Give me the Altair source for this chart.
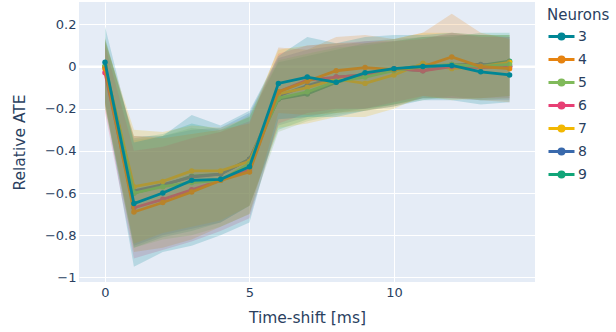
import altair as alt
import pandas as pd

# Time shift in ms (x positions)
time_shift = list(range(15))

# Number of neurons per series, and the series colours
neurons = ["3", "4", "5", "6", "7", "8", "9"]
colors = ["#008695", "#e68310", "#80ba5a", "#e73f74", "#f2b701", "#3969ac", "#11a579"]

# Mean relative ATE per series
mean_3 = [0.02, -0.65, -0.60, -0.54, -0.535, -0.475, -0.08, -0.05, -0.075, -0.03, -0.01, 0.0, 0.005, -0.025, -0.04]
mean_4 = [-0.01, -0.69, -0.645, -0.595, -0.54, -0.50, -0.12, -0.07, -0.02, -0.005, -0.015, 0.0, 0.045, 0.0, -0.01]
mean_5 = [0.0, -0.60, -0.57, -0.55, -0.54, -0.46, -0.15, -0.12, -0.07, -0.05, -0.02, 0.0, 0.01, 0.0, 0.01]
mean_6 = [-0.03, -0.67, -0.63, -0.585, -0.54, -0.49, -0.12, -0.065, -0.05, -0.04, -0.01, -0.02, 0.0, -0.005, 0.0]
mean_7 = [0.0, -0.57, -0.545, -0.495, -0.495, -0.45, -0.13, -0.10, -0.06, -0.08, -0.04, 0.015, -0.01, 0.0, 0.02]
mean_8 = [0.0, -0.59, -0.56, -0.525, -0.51, -0.44, -0.14, -0.09, -0.05, -0.04, -0.01, -0.02, 0.01, 0.01, 0.0]
mean_9 = [0.0, -0.60, -0.565, -0.52, -0.51, -0.44, -0.155, -0.13, -0.075, -0.04, -0.015, 0.005, 0.0, 0.005, 0.025]

# Upper bound of the spread band per series
upper_3 = [0.19, -0.36, -0.33, -0.23, -0.28, -0.21, 0.05, 0.14, 0.11, 0.14, 0.15, 0.15, 0.16, 0.15, 0.15]
upper_4 = [0.13, -0.33, -0.34, -0.32, -0.30, -0.27, 0.09, 0.08, 0.14, 0.15, 0.13, 0.16, 0.25, 0.16, 0.13]
upper_5 = [0.14, -0.35, -0.33, -0.29, -0.31, -0.23, 0.03, 0.06, 0.09, 0.10, 0.12, 0.14, 0.15, 0.15, 0.15]
upper_6 = [0.10, -0.40, -0.38, -0.34, -0.31, -0.26, 0.06, 0.10, 0.11, 0.12, 0.12, 0.13, 0.16, 0.14, 0.14]
upper_7 = [0.12, -0.30, -0.31, -0.28, -0.29, -0.24, 0.08, 0.10, 0.11, 0.11, 0.13, 0.16, 0.16, 0.15, 0.15]
upper_8 = [0.12, -0.33, -0.33, -0.30, -0.29, -0.22, 0.04, 0.08, 0.10, 0.12, 0.13, 0.14, 0.15, 0.15, 0.14]
upper_9 = [0.13, -0.34, -0.32, -0.27, -0.30, -0.24, 0.02, 0.05, 0.08, 0.11, 0.12, 0.14, 0.14, 0.16, 0.16]

# Lower bound of the spread band per series
lower_3 = [-0.17, -0.95, -0.88, -0.85, -0.80, -0.74, -0.25, -0.24, -0.24, -0.21, -0.19, -0.16, -0.16, -0.18, -0.17]
lower_4 = [-0.18, -0.88, -0.86, -0.82, -0.76, -0.70, -0.22, -0.23, -0.22, -0.21, -0.19, -0.15, -0.15, -0.16, -0.17]
lower_5 = [-0.20, -0.86, -0.82, -0.80, -0.76, -0.70, -0.31, -0.26, -0.23, -0.21, -0.18, -0.16, -0.14, -0.16, -0.15]
lower_6 = [-0.22, -0.91, -0.87, -0.83, -0.78, -0.72, -0.27, -0.22, -0.20, -0.20, -0.17, -0.14, -0.15, -0.15, -0.15]
lower_7 = [-0.18, -0.84, -0.79, -0.76, -0.73, -0.66, -0.29, -0.27, -0.24, -0.24, -0.20, -0.14, -0.16, -0.15, -0.14]
lower_8 = [-0.17, -0.85, -0.80, -0.77, -0.74, -0.66, -0.28, -0.24, -0.21, -0.20, -0.18, -0.15, -0.15, -0.16, -0.16]
lower_9 = [-0.19, -0.86, -0.81, -0.78, -0.74, -0.66, -0.30, -0.25, -0.22, -0.20, -0.18, -0.15, -0.15, -0.15, -0.14]

means = [mean_3, mean_4, mean_5, mean_6, mean_7, mean_8, mean_9]
uppers = [upper_3, upper_4, upper_5, upper_6, upper_7, upper_8, upper_9]
lowers = [lower_3, lower_4, lower_5, lower_6, lower_7, lower_8, lower_9]

rows = []
for n, m, u, lo in zip(neurons, means, uppers, lowers):
    for t, mv, uv, lv in zip(time_shift, m, u, lo):
        rows.append({"neurons": n, "t": t, "mean": mv, "hi": uv, "lo": lv})
df = pd.DataFrame(rows)

FONT = "DejaVu Sans"
TEXT = "#2a3f5f"

x_scale = alt.Scale(domain=[-0.9, 14.88], nice=False, zero=False)
y_scale = alt.Scale(domain=[-1.022, 0.306], nice=False, zero=False)
x_axis = alt.Axis(values=[0, 5, 10], title="Time-shift [ms]", labelPadding=4,
                  titleX=228, titleY=40, titleBaseline="alphabetic", titleAlign="center")
y_axis = alt.Axis(values=[-1, -0.8, -0.6, -0.4, -0.2, 0, 0.2], format=".1~f",
                  title="Relative ATE", labelPadding=3,
                  titleX=-60, titleY=140, titleAngle=270, titleAlign="center",
                  titleBaseline="middle")
color_scale = alt.Scale(domain=neurons, range=colors)

legend = alt.Legend(
    title="Neurons",
    orient="none",
    legendX=468,
    legendY=6,
    symbolType="M-1,0H1M-0.19,0A0.19,0.19,0,1,0,0.19,0A0.19,0.19,0,1,0,-0.19,0",
    symbolSize=676,
    symbolStrokeWidth=3,
    labelOffset=2,
)

X = alt.X("t:Q", scale=x_scale, axis=x_axis)

# white zero line under everything
zero = alt.Chart(pd.DataFrame({"z": [0]})).mark_rule(color="white", strokeWidth=2).encode(
    y=alt.Y("z:Q", scale=y_scale, axis=y_axis)
)

layers = [zero]
base = alt.Chart(df)
# last series in the list is drawn first, so "3" ends up on top
for n, c in reversed(list(zip(neurons, colors))):
    sub = base.transform_filter(alt.datum.neurons == n)
    band = sub.mark_area(opacity=0.2, color=c).encode(
        x=X,
        y=alt.Y("lo:Q", scale=y_scale, axis=y_axis),
        y2="hi:Q",
    )
    line = sub.mark_line(strokeWidth=2.8).encode(
        x=X,
        y=alt.Y("mean:Q", scale=y_scale, axis=y_axis),
        color=alt.Color("neurons:N", scale=color_scale, legend=legend),
    )
    pts = sub.mark_circle(size=30, opacity=1, color=c).encode(
        x=X,
        y=alt.Y("mean:Q", scale=y_scale, axis=y_axis),
    )
    layers += [band, line, pts]

chart = (
    alt.layer(*layers)
    .properties(
        width=456,
        height=280,
        padding={"left": 79, "top": 2, "right": 81, "bottom": 50},
        autosize=alt.AutoSizeParams(type="none"),
        background="white",
    )
    .configure_view(fill="#E5ECF6", stroke=None)
    .configure_axis(
        grid=True, gridColor="white", gridWidth=1, domain=False, ticks=False,
        labelColor=TEXT, labelFont=FONT, labelFontSize=13,
        titleColor=TEXT, titleFont=FONT, titleFontSize=15.5, titleFontWeight="normal",
    )
    .configure_legend(
        padding=0, titleFont=FONT, titleFontSize=15, titleFontWeight="normal",
        titleColor=TEXT, labelFont=FONT, labelFontSize=14, labelColor=TEXT,
        rowPadding=-6.3, titlePadding=-1,
    )
)

chart.save("out.html", embed_options={"renderer": "svg", "actions": False})
